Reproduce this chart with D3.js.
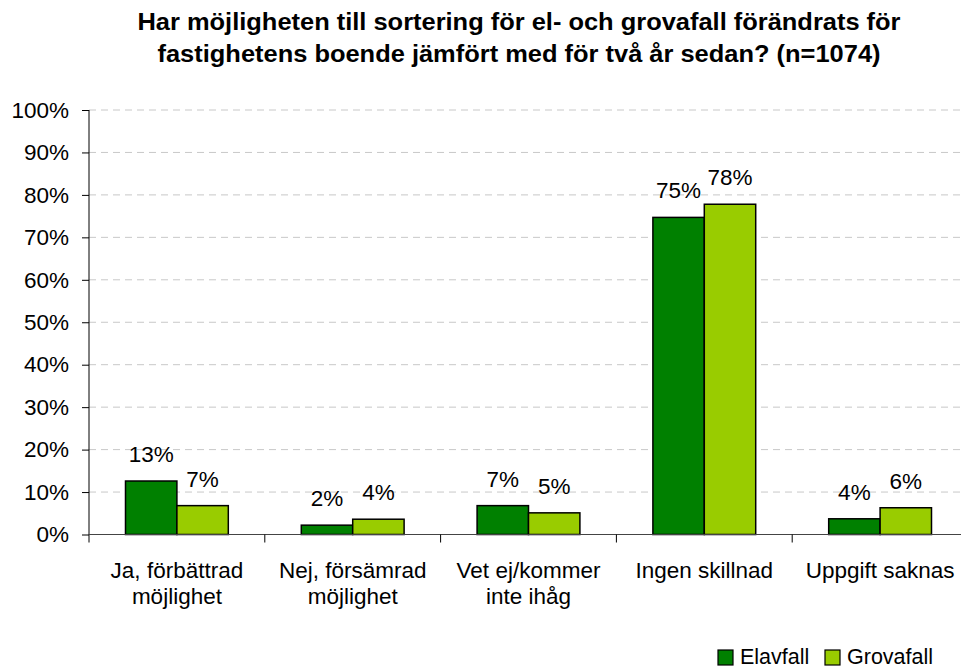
<!DOCTYPE html>
<html>
<head>
<meta charset="utf-8">
<script src="https://cdn.jsdelivr.net/npm/d3@7"></script>
<style>
  body { margin: 0; background: #fff; }
  svg { display: block; font-family: "Liberation Sans", Arial, sans-serif; }
</style>
</head>
<body>
<svg id="chart" width="961" height="670"></svg>
<script>
'use strict';

// Data
var titleLines = [
  'Har möjligheten till sortering för el- och grovafall förändrats för',
  'fastighetens boende jämfört med för två år sedan? (n=1074)'
];
var categories = [
  ['Ja, förbättrad', 'möjlighet'],
  ['Nej, försämrad', 'möjlighet'],
  ['Vet ej/kommer', 'inte ihåg'],
  ['Ingen skillnad'],
  ['Uppgift saknas']
];
var seriesNames = ['Elavfall', 'Grovafall'];
var elavfall = [12.6, 2.2, 6.8, 74.7, 3.7];
var grovafall = [6.8, 3.6, 5.1, 77.8, 6.3];
var yTicks = [0, 10, 20, 30, 40, 50, 60, 70, 80, 90, 100];

var colors = ['#008000', '#99cc00'];
var fontSize = '22.5px';

var svg = d3.select('#chart');

/**
 * Plot area
 */
var plotLeft = 89, plotRight = 968, plotTop = 110, plotBottom = 534.5;

var x0 = d3.scaleBand()
  .domain(d3.range(categories.length))
  .range([plotLeft, plotRight])
  .paddingInner(0).paddingOuter(0);

var x1 = d3.scaleBand()
  .domain(seriesNames)
  .range([0, x0.bandwidth()])
  .paddingInner(0)
  .paddingOuter(0.71);

var y = d3.scaleLinear().domain([0, 100]).range([plotBottom, plotTop]);

// Gridlines
svg.append('g').selectAll('line')
  .data(yTicks.filter(function(t) { return t > 0; }))
  .enter().append('line')
  .attr('x1', plotLeft).attr('x2', 961)
  .attr('y1', function(d) { return y(d); })
  .attr('y2', function(d) { return y(d); })
  .attr('stroke', '#c8c8c8')
  .attr('stroke-width', 1)
  .attr('stroke-dasharray', '7,5');

// Y axis
var yAxis = d3.axisLeft(y)
  .tickValues(yTicks)
  .tickSize(7)
  .tickPadding(13)
  .tickFormat(function(d) { return d + '%'; });

var gy = svg.append('g')
  .attr('transform', 'translate(' + plotLeft + ',0)')
  .call(yAxis);
gy.select('.domain').attr('d', 'M0,' + plotTop + 'V' + (plotBottom + 8)).attr('stroke', '#000');
gy.selectAll('.tick line').attr('stroke', '#000');
gy.selectAll('.tick text')
  .attr('font-size', fontSize)
  .attr('fill', '#000')
  .attr('font-family', '"Liberation Sans", Arial, sans-serif');

// Bars
var rows = categories.map(function(c, i) {
  return [
    { i: i, s: seriesNames[0], v: elavfall[i] },
    { i: i, s: seriesNames[1], v: grovafall[i] }
  ];
});

var groups = svg.append('g').selectAll('g')
  .data(rows)
  .enter().append('g')
  .attr('transform', function(d, i) { return 'translate(' + x0(i) + ',0)'; });

groups.selectAll('rect')
  .data(function(d) { return d; })
  .enter().append('rect')
  .attr('x', function(d) { return x1(d.s); })
  .attr('y', function(d) { return y(d.v); })
  .attr('width', x1.bandwidth())
  .attr('height', function(d) { return y(0) - y(d.v); })
  .attr('fill', function(d, j) { return colors[j]; })
  .attr('stroke', '#000')
  .attr('stroke-width', 1.5);

// Value labels
groups.selectAll('text')
  .data(function(d) { return d; })
  .enter().append('text')
  .attr('x', function(d) { return x1(d.s) + x1.bandwidth() / 2; })
  .attr('y', function(d) { return y(d.v) - 19; })
  .attr('text-anchor', 'middle')
  .attr('font-size', fontSize)
  .text(function(d) { return Math.round(d.v) + '%'; });

// X axis line and ticks
var xAxis = d3.axisBottom(x0).tickSize(0).tickFormat('');
var gx = svg.append('g')
  .attr('transform', 'translate(0,' + plotBottom + ')')
  .call(xAxis);
gx.select('.domain').attr('d', 'M' + plotLeft + ',0H961').attr('stroke', '#444');
gx.selectAll('.tick').remove();

svg.append('g').selectAll('line')
  .data(d3.range(1, categories.length))
  .enter().append('line')
  .attr('x1', function(d) { return x0(d); })
  .attr('x2', function(d) { return x0(d); })
  .attr('y1', plotBottom).attr('y2', plotBottom + 8)
  .attr('stroke', '#000');

// Category labels
var cat = svg.append('g').selectAll('text')
  .data(categories)
  .enter().append('text')
  .attr('x', function(d, i) { return x0(i) + x0.bandwidth() / 2; })
  .attr('y', 578)
  .attr('text-anchor', 'middle')
  .attr('font-size', fontSize);
cat.selectAll('tspan')
  .data(function(d) { return d; })
  .enter().append('tspan')
  .attr('x', function() { return d3.select(this.parentNode).attr('x'); })
  .attr('dy', function(d, j) { return j === 0 ? 0 : 26; })
  .text(function(d) { return d; });

// Title
svg.append('g').selectAll('text')
  .data(titleLines)
  .enter().append('text')
  .attr('x', 519)
  .attr('y', function(d, i) { return 30 + i * 32; })
  .attr('text-anchor', 'middle')
  .attr('font-size', '23px')
  .attr('font-weight', 'bold')
  .attr('textLength', function(d, i) { return i === 0 ? 763 : 723; })
  .attr('lengthAdjust', 'spacingAndGlyphs')
  .text(function(d) { return d; });

// Legend
var legendX = [718, 825];
var legend = svg.append('g').selectAll('g')
  .data(seriesNames)
  .enter().append('g')
  .attr('transform', function(d, i) { return 'translate(' + legendX[i] + ',650)'; });
legend.append('rect')
  .attr('width', 15).attr('height', 15)
  .attr('fill', function(d, i) { return colors[i]; })
  .attr('stroke', '#000')
  .attr('stroke-width', 1.2);
legend.append('text')
  .attr('x', 22).attr('y', 14)
  .attr('font-size', '21.5px')
  .text(function(d) { return d; });
</script>
</body>
</html>
